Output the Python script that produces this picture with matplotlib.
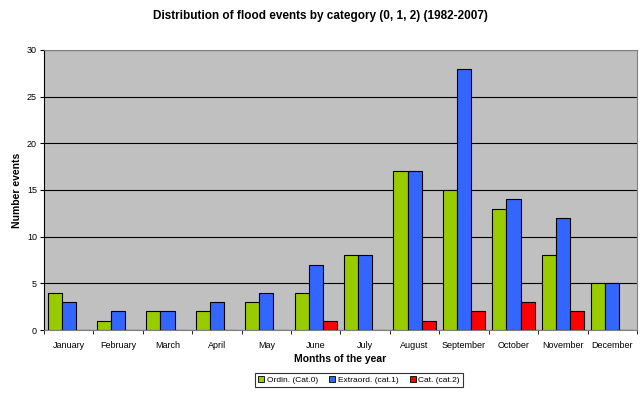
import numpy as np
import matplotlib.pyplot as plt
from matplotlib.patches import Patch

months = ["January", "February", "March", "April", "May", "June", "July",
          "August", "September", "October", "November", "December"]
ordinary = [4, 1, 2, 2, 3, 4, 8, 17, 15, 13, 8, 5]
extraordinary = [3, 2, 2, 3, 4, 7, 8, 17, 28, 14, 12, 5]
catastrophic = [0, 0, 0, 0, 0, 1, 0, 1, 2, 3, 2, 0]
series_labels = ["Ordin. (Cat.0)", "Extraord. (cat.1)", "Cat. (cat.2)"]
colors = ["#99CC00", "#3366FF", "#FF0000"]

plt.rcParams['font.family'] = ['Liberation Sans', 'DejaVu Sans']

fig = plt.figure(figsize=(6.41, 3.93), dpi=100)
ax = fig.add_axes([44 / 641, 1 - 330 / 393, 593 / 641, 280 / 393])
ax.set_facecolor("#C0C0C0")

x = np.arange(len(months))
w = 0.285
for i, (vals, c) in enumerate(zip([ordinary, extraordinary, catastrophic], colors)):
    ax.bar(x + (i - 1) * w, vals, width=w, color=c, edgecolor="black",
           linewidth=0.8, zorder=3)

ax.set_xlim(-0.5, len(months) - 0.5)
ax.set_ylim(0, 30)
ax.set_yticks(range(0, 31, 5))
ax.yaxis.grid(True, color="black", linewidth=0.8, zorder=1)
ax.set_axisbelow(True)

ax.set_xticks(x)
ax.set_xticklabels(months, fontsize=6.5)
ax.set_xticks(np.arange(-0.5, len(months), 1), minor=True)
ax.tick_params(axis="x", which="major", length=0, pad=8)
ax.tick_params(axis="x", which="minor", length=3, color="black")
ax.tick_params(axis="y", labelsize=6.5, length=3, pad=2)

for s in ["top", "right", "bottom"]:
    ax.spines[s].set_color("#808080")
ax.spines["left"].set_color("black")

ax.set_xlabel("Months of the year", fontsize=7.5, fontweight="bold", labelpad=3)
ax.set_ylabel("Number events", fontsize=7.5, fontweight="bold", labelpad=4)
fig.text(0.5, 1 - 16 / 393,
         "Distribution of flood events by category (0, 1, 2) (1982-2007)",
         fontsize=8.5, fontweight="bold", ha="center", va="center")

handles = [Patch(facecolor=c, edgecolor="black", linewidth=0.6) for c in colors]
leg = fig.legend(handles, series_labels, loc="center",
                 bbox_to_anchor=(359 / 641, 1 - 380 / 393),
                 ncol=3, fontsize=6, frameon=True, fancybox=False,
                 handlelength=0.7, handleheight=0.7, handletextpad=0.3,
                 columnspacing=1.4, borderpad=0.35)
leg.get_frame().set_edgecolor("black")
leg.get_frame().set_linewidth(0.8)

fig.savefig("out.png", dpi=100)
